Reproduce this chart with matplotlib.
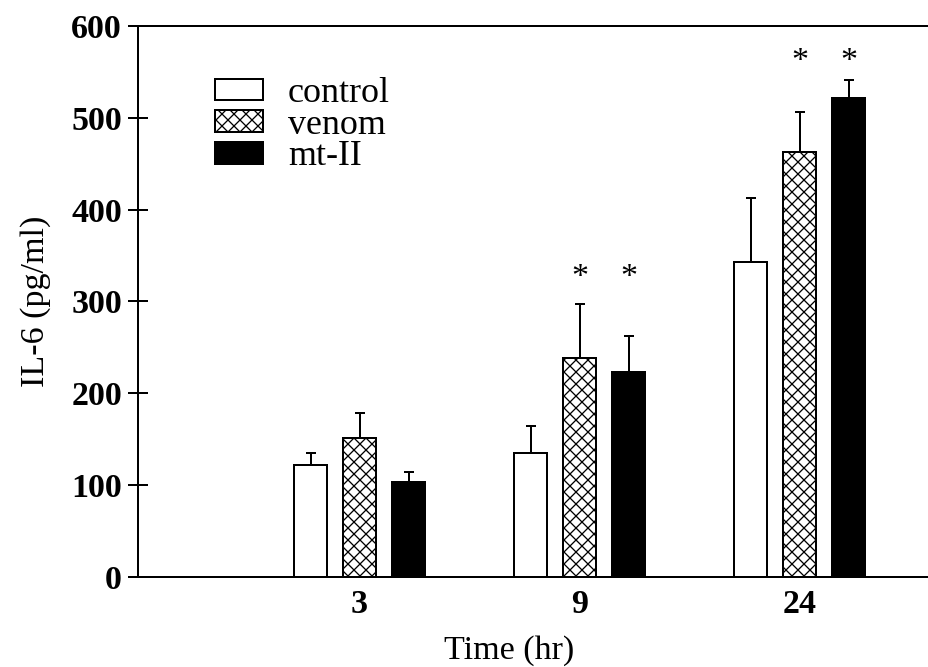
import numpy as np
import matplotlib
matplotlib.use("Agg")
import matplotlib.pyplot as plt

# IL-6 levels by time point (mean and upper SEM)
times = ["3", "9", "24"]
control = [122, 135, 343]
control_err = [13, 29, 70]
venom = [151, 238, 463]
venom_err = [28, 59, 43]
mt2 = [103, 223, 522]
mt2_err = [11, 39, 19]

# height of the significance stars in each group (nan = none)
star_level = [np.nan, 332, 568]

plt.rcParams["font.family"] = ["Liberation Serif", "DejaVu Serif"]
plt.rcParams["hatch.linewidth"] = 1.3

fig = plt.figure(figsize=(928 / 72, 667 / 72), dpi=72)
ax = fig.add_axes([138 / 928, 90 / 667, 790 / 928, 551 / 667])

x = np.arange(len(times))
w = 0.15
off = 0.2227

series = [
    ("control", control, control_err, dict(color="white", edgecolor="black")),
    ("venom", venom, venom_err, dict(color="white", edgecolor="black", hatch="xx")),
    ("mt-II", mt2, mt2_err, dict(color="black", edgecolor="black")),
]

for i, (name, vals, err, style) in enumerate(series):
    pos = x + (i - 1) * off
    ax.bar(pos, vals, width=w, linewidth=2, label=name, zorder=3, **style)
    ax.errorbar(pos, vals, yerr=[np.zeros(len(err)), err], fmt="none",
                ecolor="black", elinewidth=2, capsize=5, capthick=2, zorder=2)
    if name != "control":
        for px, lvl in zip(pos, star_level):
            if not np.isnan(lvl):
                ax.annotate("*", (px, lvl), xytext=(0, -6),
                            textcoords="offset points", ha="center",
                            va="center", fontsize=34)

ax.set_xlim(-1.007, 2.584)
ax.set_ylim(0, 600)
ax.set_yticks(range(0, 601, 100))
ax.set_xticks(x)
ax.set_xticklabels(times)

ax.spines["right"].set_visible(False)
for s in ["left", "top", "bottom"]:
    ax.spines[s].set_linewidth(2)

ax.tick_params(axis="y", direction="inout", length=20, width=2, pad=6,
               labelsize=34)
ax.tick_params(axis="x", length=0, pad=12, labelsize=34)
for lab in ax.get_xticklabels() + ax.get_yticklabels():
    lab.set_fontweight("bold")

ax.set_ylabel("IL-6 (pg/ml)", fontsize=34, labelpad=20)
ax.set_xlabel("Time (hr)", fontsize=34)
ax.xaxis.set_label_coords(0.4696, -0.105)

ax.legend(loc="upper left", bbox_to_anchor=(0.0975, 0.907), frameon=False,
          fontsize=36, handlelength=1.33, handleheight=0.56,
          handletextpad=0.7, labelspacing=-0.04, borderpad=0,
          borderaxespad=0)

fig.savefig("out.png", dpi=72)
